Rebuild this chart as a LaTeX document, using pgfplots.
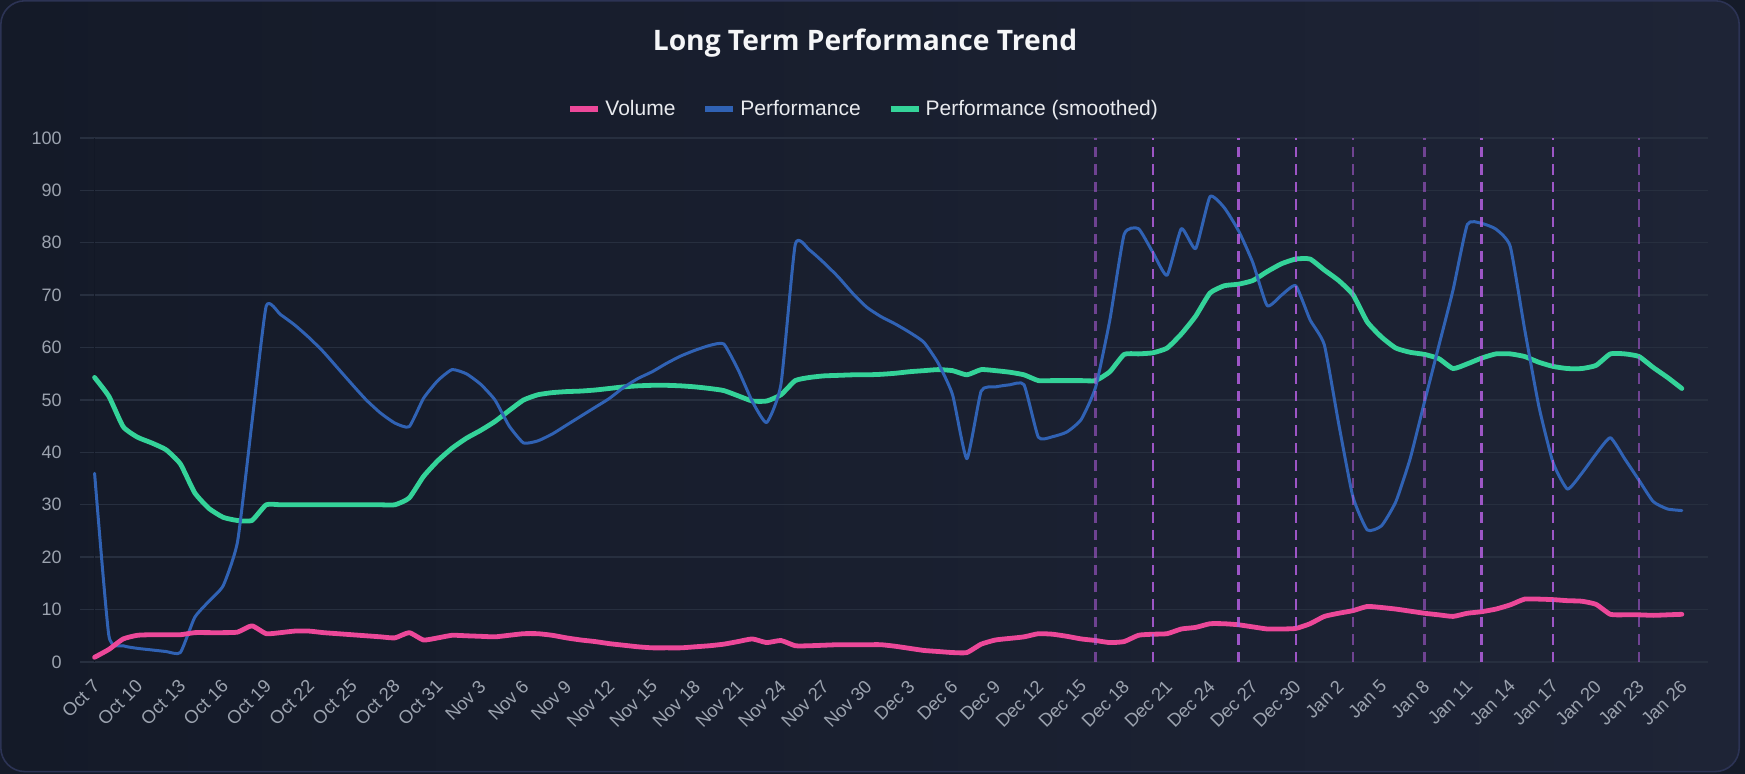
\documentclass[border=0pt]{standalone}
\usepackage{fontspec}
\setmainfont{Liberation Sans}
\newfontfamily\titlefont{Open Sans}
\usepackage{pgfplots}
\usepackage{pgfplotstable}
\pgfplotsset{compat=1.18}

\definecolor{pageC}{HTML}{151B29}
\definecolor{bgA}{HTML}{141A28}
\definecolor{bgB}{HTML}{1E2436}
\definecolor{borderC}{HTML}{2C3354}
\definecolor{gridC}{HTML}{272F3F}
\definecolor{axisC}{HTML}{121826}
\definecolor{tickC}{HTML}{9CA3AF}
\definecolor{legendC}{HTML}{E8EAEE}
\definecolor{titleC}{HTML}{F5F6F8}
\definecolor{volC}{HTML}{EC4899}
\definecolor{perfC}{HTML}{3062B4}
\definecolor{smoothC}{HTML}{34D399}
\definecolor{markC}{HTML}{B45FE0}

% day index (0 = Oct 7), volume, performance, smoothed performance
\pgfplotstableread{
d vol perf smooth
0 0.9 36 54.3
1 2.4 5 50.7
2 4.4 3.1 44.9
3 5.1 2.6 42.9
4 5.2 2.3 41.8
5 5.2 2.0 40.5
6 5.2 1.8 37.8
7 5.6 8.5 32.3
8 5.6 11.6 29.3
9 5.6 14.6 27.6
10 5.7 23 27.0
11 6.9 45.6 27.0
12 5.4 67.9 30
13 5.6 66.3 30
14 5.9 64.3 30
15 5.9 61.9 30
16 5.6 59.2 30
17 5.4 56.1 30
18 5.2 53 30
19 5.0 50 30
20 4.8 47.5 30
21 4.6 45.6 30
22 5.6 44.9 31.3
23 4.2 50.3 35.4
24 4.6 53.7 38.4
25 5.1 55.8 40.8
26 5.0 55 42.7
27 4.9 53 44.2
28 4.8 50 45.9
29 5.1 45 48
30 5.4 41.8 50
31 5.4 42.2 51
32 5.1 43.5 51.4
33 4.6 45.2 51.6
34 4.2 46.9 51.7
35 3.9 48.6 51.9
36 3.5 50.3 52.2
37 3.2 52.4 52.5
38 2.9 54.1 52.7
39 2.7 55.4 52.8
40 2.7 57 52.8
41 2.7 58.4 52.7
42 2.9 59.5 52.5
43 3.1 60.4 52.2
44 3.4 60.7 51.8
45 3.9 55.8 50.8
46 4.4 49.7 49.8
47 3.7 45.7 49.8
48 4.1 53 51
49 3.1 79.7 53.7
50 3.1 78.6 54.3
51 3.2 76.2 54.6
52 3.3 73.5 54.7
53 3.3 70.4 54.8
54 3.3 67.7 54.8
55 3.3 65.9 54.9
56 3.0 64.5 55.1
57 2.6 62.9 55.4
58 2.2 61 55.6
59 2.0 57 55.8
60 1.8 51 55.6
61 1.8 38.8 54.8
62 3.4 51.7 55.8
63 4.2 52.5 55.6
64 4.5 52.9 55.3
65 4.8 52.9 54.8
66 5.4 42.9 53.7
67 5.3 43 53.7
68 4.9 43.9 53.7
69 4.4 46.3 53.7
70 4.1 52.4 53.7
71 3.7 65.3 55.4
72 3.9 81.6 58.7
73 5.1 82.7 58.8
74 5.3 78.2 59
75 5.4 73.8 59.9
76 6.3 82.7 62.6
77 6.6 78.9 66
78 7.3 88.8 70.4
79 7.3 86.7 71.8
80 7.1 82.3 72.1
81 6.7 76.2 72.8
82 6.3 68 74.5
83 6.3 70 76
84 6.4 71.8 76.9
85 7.3 65.3 76.9
86 8.7 60.5 74.8
87 9.3 45.5 72.8
88 9.8 31.5 70.1
89 10.6 25.2 64.9
90 10.4 26 62
91 10.1 30.6 59.9
92 9.7 38.8 59.1
93 9.3 49.6 58.7
94 9.0 60.3 57.9
95 8.7 71 56
96 9.3 83.5 56.9
97 9.6 83.7 58
98 10.1 82.6 58.8
99 10.9 79.3 58.8
100 12 63.6 58.3
101 12 48.8 57.2
102 11.9 38 56.4
103 11.7 33 56
104 11.6 36 56
105 11.0 39.7 56.6
106 9.1 42.8 58.8
107 9.0 38.8 58.8
108 9.0 34.7 58.3
109 8.9 30.6 56.2
110 9.0 29.2 54.3
111 9.1 28.9 52.2
}\trenddata

\pgfplotsset{
  volstyle/.style={color=volC, line width=2.4pt, smooth, tension=0.3, line join=round, line cap=round},
  perfstyle/.style={color=perfC, line width=1.5pt, smooth, tension=0.3, line join=round, line cap=round},
  smoothstyle/.style={color=smoothC, line width=2.4pt, smooth, tension=0.3, line join=round, line cap=round},
  dimmark/.style={color=markC, draw opacity=0.55, line width=1.2pt, dash pattern=on 5.2pt off 3.5pt},
  brightmark/.style={color=markC, draw opacity=0.85, line width=1.2pt, dash pattern=on 5.2pt off 3.5pt},
}

\begin{document}
\begin{tikzpicture}
\path[use as bounding box] (0,0) rectangle (872.5pt,387pt);
\fill[pageC] (0,0) rectangle (872.5pt,387pt);
\shadedraw[left color=bgA, right color=bgB, draw=borderC, line width=0.8pt, rounded corners=12pt]
  (0.4pt,1.2pt) rectangle (869.6pt,386.6pt);

\node[font=\titlefont\bfseries\fontsize{14.1}{17}\selectfont, text=titleC] at (432.5pt,365.4pt) {Long Term Performance Trend};

\begin{axis}[
  at={(40pt,56pt)}, anchor=south west,
  scale only axis, width=814pt, height=262pt,
  xmin=-1.02, xmax=112.83, ymin=0, ymax=100,
  axis line style={draw=none},
  major tick length=0pt,
  ytick={0,10,...,100},
  ymajorgrids,
  grid style={color=gridC, line width=0.7pt},
  xtick={0,3,...,111},
  xticklabels={Oct 7,Oct 10,Oct 13,Oct 16,Oct 19,Oct 22,Oct 25,Oct 28,Oct 31,Nov 3,Nov 6,Nov 9,Nov 12,Nov 15,Nov 18,Nov 21,Nov 24,Nov 27,Nov 30,Dec 3,Dec 6,Dec 9,Dec 12,Dec 15,Dec 18,Dec 21,Dec 24,Dec 27,Dec 30,Jan 2,Jan 5,Jan 8,Jan 11,Jan 14,Jan 17,Jan 20,Jan 23,Jan 26},
  xticklabel style={xshift=1pt, yshift=-10.5pt, rotate=45, anchor=east, inner sep=0pt, font=\fontsize{9.2}{10}\selectfont, text=tickC},
  yticklabel style={anchor=east, inner sep=0pt, xshift=-9pt, font=\fontsize{9}{10}\selectfont, text=tickC},
  /pgf/number format/assume math mode=true,
  legend columns=3,
  legend cell align=left,
  legend style={at={(0.482,1.0553)}, anchor=center, draw=none, fill=none, text=legendC,
    font=\fontsize{10.5}{12}\selectfont,
    /tikz/every even column/.append style={column sep=11.5pt}},
  legend image code/.code={\draw[line width=3pt, line cap=butt] (0pt,0pt) -- (14pt,0pt);},
]
\draw[axisC, line width=0.7pt] (axis cs:0,0) -- (axis cs:0,100);

\addlegendimage{volstyle}\addlegendentry{Volume}
\addlegendimage{perfstyle}\addlegendentry{Performance}
\addlegendimage{smoothstyle}\addlegendentry{Performance (smoothed)}

\addplot[smoothstyle, forget plot] table[x=d, y=smooth] {\trenddata};
\addplot[perfstyle, forget plot] table[x=d, y=perf] {\trenddata};
\addplot[volstyle, forget plot] table[x=d, y=vol] {\trenddata};

\pgfplotsinvokeforeach{70,88,93,108}{
  \addplot[dimmark, forget plot] coordinates {(#1,0) (#1,100)};
}
\pgfplotsinvokeforeach{74,80,84,97,102}{
  \addplot[brightmark, forget plot] coordinates {(#1,0) (#1,100)};
}
\end{axis}
\end{tikzpicture}
\end{document}
